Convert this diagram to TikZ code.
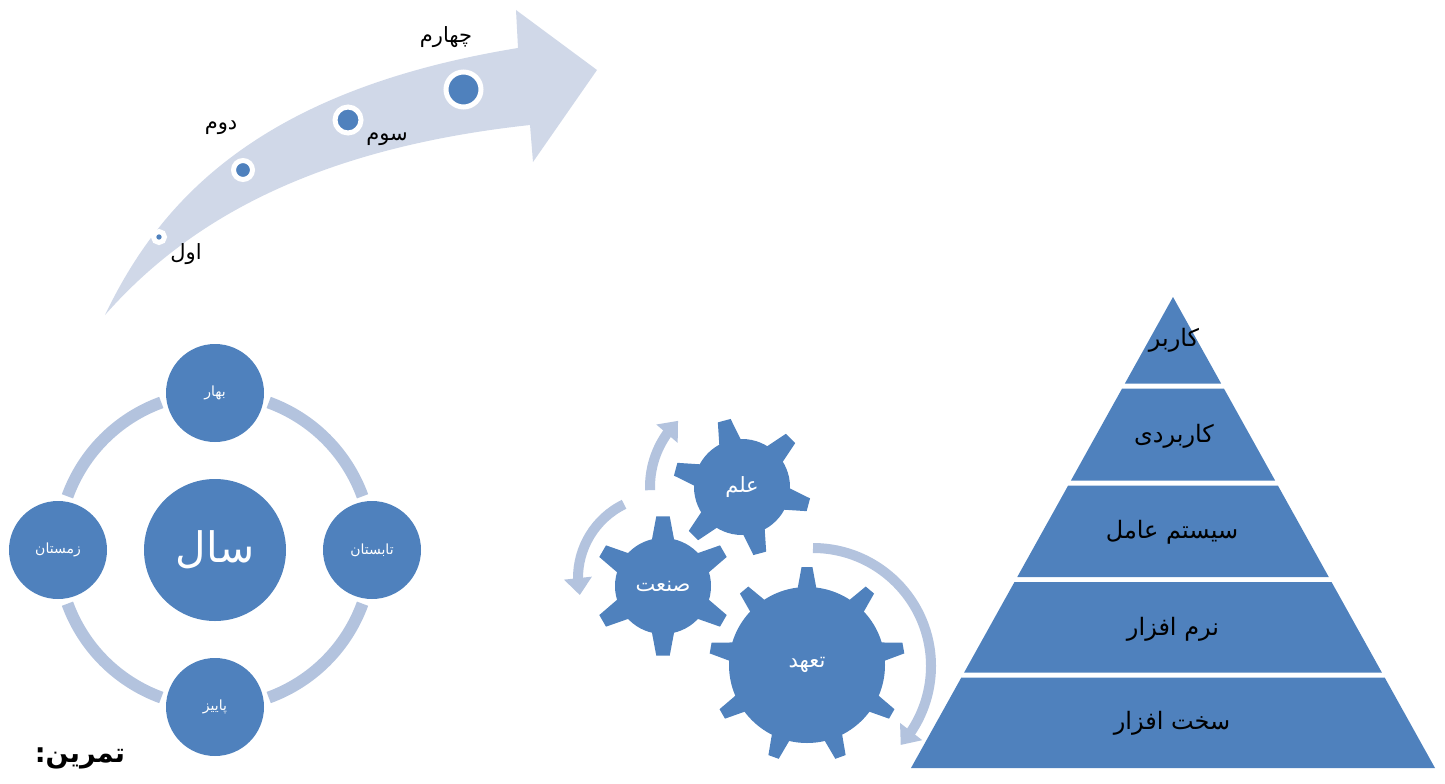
\documentclass[tikz,border=0pt]{standalone}
\usepackage{fontspec}
\setmainfont{DejaVu Sans}
\newfontfamily\arfont[Script=Arabic]{DejaVu Sans}
\TeXXeTstate=1
\usetikzlibrary{arrows.meta,bending,calc}
\definecolor{blueA}{HTML}{4F81BD}
\definecolor{ringC}{HTML}{B3C3DE}
\definecolor{arrC}{HTML}{D0D8E8}
\newcommand{\rtl}[1]{\beginR #1\endR}
\newcommand{\drawgear}[8]{%
  \fill[blueA] (#2) circle[radius=#5pt];
  \pgfmathsetmacro\gri{#5-3}
  \foreach \k in {1,...,#3}{
    \pgfmathsetmacro\gang{#4+360/#3*\k}
    \fill[blueA] ($(#2)+(\gang+#7:\gri pt)$) -- ($(#2)+(\gang+#8:#6pt)$)
       -- ($(#2)+(\gang-#8:#6pt)$) -- ($(#2)+(\gang-#7:\gri pt)$) -- cycle;
  }%
}
\tikzset{
  lbl/.style={font=\arfont\fontsize{21}{25}\selectfont, inner sep=0pt, text=black},
  dotnode/.style={circle, fill=blueA, draw=white, inner sep=0pt},
  bigc/.style={circle, fill=blueA, inner sep=0pt, minimum size=142pt, text=white,
     font=\arfont\fontsize{42}{46}\selectfont},
  satc/.style={circle, fill=blueA, inner sep=0pt, minimum size=98pt, text=white,
     font=\arfont\fontsize{14}{16}\selectfont},
  ring/.style={draw=ringC, line width=12pt},
  geartxt/.style={font=\arfont\fontsize{21}{25}\selectfont, inner sep=0pt, text=white},
  cyc/.style={draw=ringC, line width=10pt, -{Triangle[width=27pt,length=17pt]}},
  pyrtxt/.style={font=\arfont\fontsize{24}{28}\selectfont, inner sep=0pt, text=black},
}
\begin{document}
\begin{tikzpicture}[x=1pt,y=-1pt]
\useasboundingbox (0,0) rectangle (1445,784);

% ---------- curved timeline arrow ----------
\fill[arrC] (105,315) .. controls (160,200) and (260,90) .. (518,48)
   -- (516,10) -- (597,70) -- (533,162) -- (530,125)
   .. controls (300,150) and (180,230) .. (105,315) -- cycle;
\node[dotnode, line width=5pt, minimum size=11pt] (d1) at (159,237) {};
\node[dotnode, line width=5pt, minimum size=19pt] (d2) at (243,170) {};
\node[dotnode, line width=5pt, minimum size=26pt] (d3) at (348,120) {};
\node[dotnode, line width=5pt, minimum size=35pt] (d4) at (463.5,89.5) {};
\node[lbl] (t1) at (186,254) {\rtl{اول}};
\node[lbl] (t2) at (221,128) {\rtl{دوم}};
\node[lbl] (t3) at (387,139) {\rtl{سوم}};
\node[lbl] (t4) at (446,37) {\rtl{چهارم}};

% ---------- year cycle ----------
\coordinate (yc) at (215,550);
\foreach \a in {20,110,200,290}
  \draw[ring] (yc) ++(\a:157pt) arc[start angle=\a, end angle=\a+50, radius=157pt];
\node[bigc] (sal) at (yc) {\rtl{سال}};
\node[satc] (s1) at ($(yc)+(90:157pt)$) {\rtl{بهار}};
\node[satc] (s2) at ($(yc)+(0:157pt)$) {\rtl{تابستان}};
\node[satc] (s3) at ($(yc)+(-90:157pt)$) {\rtl{پاییز}};
\node[satc] (s4) at ($(yc)+(180:157pt)$) {\rtl{زمستان}};

% ---------- gears ----------
\coordinate (g1) at (742,487);
\coordinate (g2) at (663,586);
\coordinate (g3) at (807,665);
\coordinate (ca) at (813,666);
\coordinate (cb) at (660,578);
\coordinate (cc) at (742,487);
\draw[cyc] (cc) ++(182:92pt) arc[start angle=182, end angle=134, radius=92pt];
\draw[cyc] (cb) ++(116:82pt) arc[start angle=116, end angle=192, radius=82pt];
\draw[cyc] (ca) ++(90:118pt) arc[start angle=90, end angle=-42, radius=118pt];
\drawgear{g1}{g1}{6}{45}{48}{69}{15}{5.5}
\drawgear{g2}{g2}{6}{30}{48}{70}{15}{5.5}
\drawgear{g3}{g3}{9}{50}{78}{98}{7.5}{3.2}
\node[geartxt] (elm) at (g1) {\rtl{علم}};
\node[geartxt] (san) at (g2) {\rtl{صنعت}};
\node[geartxt] (tah) at (g3) {\rtl{تعهد}};

% ---------- pyramid ----------
\foreach \t/\b in {297/383.5, 388.5/480.5, 485.5/577, 582/672.5, 677.5/768}{
  \pgfmathsetmacro\wt{(\t-297)*0.55626}
  \pgfmathsetmacro\wb{(\b-297)*0.55626}
  \fill[blueA] (1173-\wt,\t) -- (1173+\wt,\t) -- (1173+\wb,\b) -- (1173-\wb,\b) -- cycle;
}
\node[pyrtxt] (p1) at (1174,340) {\rtl{کاربر}};
\node[pyrtxt] (p2) at (1174,436) {\rtl{کاربردی}};
\node[pyrtxt] (p3) at (1172,532) {\rtl{سیستم عامل}};
\node[pyrtxt] (p4) at (1173,629) {\rtl{نرم افزار}};
\node[pyrtxt] (p5) at (1172,723) {\rtl{سخت افزار}};

% ---------- title ----------
\node[font=\arfont\bfseries\fontsize{27}{31}\selectfont, inner sep=0pt] (tam) at (80,758) {\rtl{تمرین:}};
\end{tikzpicture}
\end{document}
